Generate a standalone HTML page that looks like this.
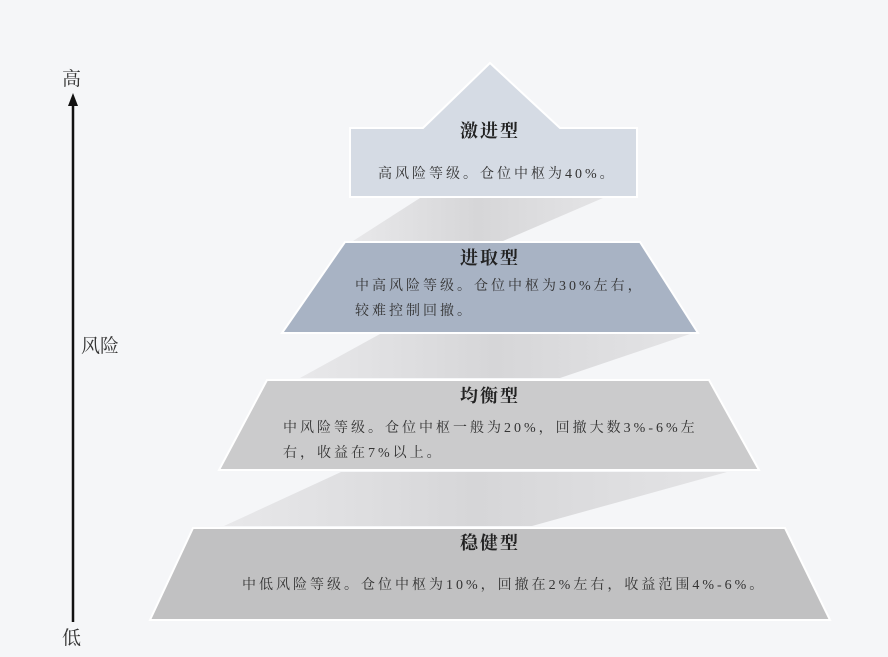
<!DOCTYPE html>
<html><head><meta charset="utf-8"><style>
body{margin:0;width:888px;height:657px;background:#f5f6f8;overflow:hidden;font-family:"Liberation Serif","Noto Serif CJK SC",serif;}
svg{position:absolute;left:0;top:0}
.t{position:absolute;color:#333;font-size:14px;letter-spacing:3px;white-space:nowrap;}
.h{position:absolute;color:#222;font-size:18px;font-weight:bold;text-align:center;letter-spacing:2px;}
</style></head><body>
<svg width="888" height="657">
<defs>
<linearGradient id="g" x1="0" y1="0" x2="1" y2="0"><stop offset="0" stop-color="#e8e8ea"/><stop offset="0.5" stop-color="#d6d6d8"/><stop offset="1" stop-color="#e4e4e6"/></linearGradient>
</defs>
<line x1="73" y1="104" x2="73" y2="622" stroke="#111" stroke-width="2.5"/>
<polygon points="73,93 68,106 78,106" fill="#111"/>
<polygon points="353,241 420,198 603,198 503,241" fill="url(#g)"/>
<polygon points="300,378 380,334 690,334 560,378" fill="url(#g)"/>
<polygon points="224,526 341,472 727,472 532,526" fill="url(#g)"/>
<polygon points="490,63 423,128 350,128 350,197 637,197 637,128 560,128" fill="#d5dbe4" stroke="#fff" stroke-width="2"/>
<polygon points="345,242 640,242 698,333 282,333" fill="#a8b3c4" stroke="#fff" stroke-width="2"/>
<polygon points="267,380 709,380 759,470 219,470" fill="#cbcbcc" stroke="#fff" stroke-width="2"/>
<polygon points="193,528 785,528 830,620 150,620" fill="#c1c1c2" stroke="#fff" stroke-width="2"/>
</svg>
<div class="t" style="left:62px;top:64px;font-size:19px;letter-spacing:0">高</div>
<div class="t" style="left:81px;top:331px;font-size:19px;letter-spacing:0">风险</div>
<div class="t" style="left:62px;top:623px;font-size:19px;letter-spacing:0">低</div>
<div class="h" style="left:390px;width:200px;top:117px">激进型</div>
<div class="t" style="left:378px;top:163px">高风险等级。仓位中枢为40%。</div>
<div class="h" style="left:390px;width:200px;top:244px">进取型</div>
<div class="t" style="left:355px;top:274px;line-height:25px">中高风险等级。仓位中枢为30%左右，<br>较难控制回撤。</div>
<div class="h" style="left:390px;width:200px;top:382px">均衡型</div>
<div class="t" style="left:283px;top:416px;line-height:25px">中风险等级。仓位中枢一般为20%，回撤大数3%-6%左<br>右，收益在7%以上。</div>
<div class="h" style="left:390px;width:200px;top:529px">稳健型</div>
<div class="t" style="left:242px;top:574px">中低风险等级。仓位中枢为10%，回撤在2%左右，收益范围4%-6%。</div>
</body></html>
